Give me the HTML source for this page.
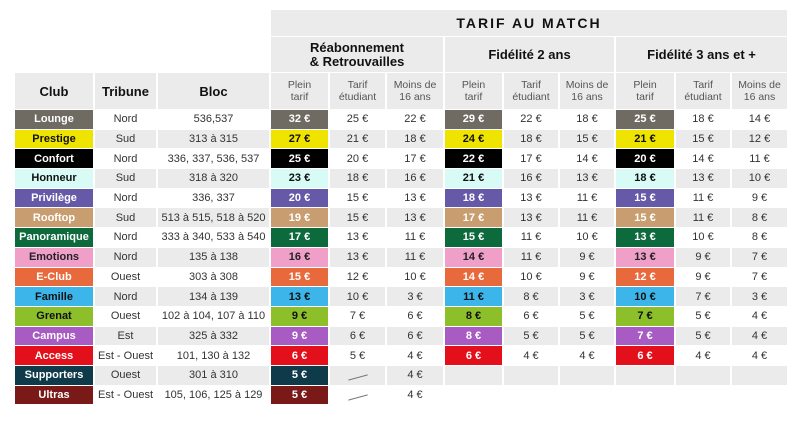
<!DOCTYPE html>
<html><head><meta charset="utf-8"><style>
body{margin:0;width:800px;height:421px;background:#fff;overflow:hidden;font-family:"Liberation Sans","DejaVu Sans",sans-serif;}
table{position:absolute;left:13px;top:9px;border-collapse:separate;border-spacing:2px 1px;table-layout:fixed;}
td{padding:0;text-align:center;font-size:11px;color:#333;background:#fff;overflow:hidden;white-space:nowrap}
tr.d td{height:18.7px}
tr.d:nth-child(odd) td{background:#ebebeb}
tr.d:nth-child(even) td{background:#fff}
.g{background:#ebebeb!important}
.e{background:#fff!important}
.t{font-size:14px;font-weight:bold;letter-spacing:2px;color:#111;height:26px}
.s{font-size:13px;font-weight:bold;color:#111;height:35px;line-height:14px}
.h td.hh{font-size:13px;font-weight:bold;color:#111;height:36px}
.h td.hs{font-size:10.5px;color:#555;line-height:12px;white-space:normal}
td.c{font-weight:bold;font-size:11px}
.slash{display:inline-block;width:20px;border-top:1px solid #777;transform:rotate(-15deg)}
</style></head><body>
<table>
<colgroup><col style="width:78px"><col style="width:61px"><col style="width:111px"><col style="width:57px"><col style="width:55px"><col style="width:56px"><col style="width:57px"><col style="width:54px"><col style="width:54px"><col style="width:58px"><col style="width:54px"><col style="width:55px"></colgroup>
<tr><td class="e" colspan="3"></td><td class="t g" colspan="9">TARIF AU MATCH</td></tr>
<tr><td class="e" colspan="3"></td><td class="s g" colspan="3">Réabonnement<br>&amp; Retrouvailles</td><td class="s g" colspan="3">Fidélité 2 ans</td><td class="s g" colspan="3">Fidélité 3 ans et +</td></tr>
<tr class="h"><td class="hh g">Club</td><td class="hh g">Tribune</td><td class="hh g">Bloc</td>
<td class="hs g">Plein<br>tarif</td><td class="hs g">Tarif<br>étudiant</td><td class="hs g">Moins de<br>16 ans</td>
<td class="hs g">Plein<br>tarif</td><td class="hs g">Tarif<br>étudiant</td><td class="hs g">Moins de<br>16 ans</td>
<td class="hs g">Plein<br>tarif</td><td class="hs g">Tarif<br>étudiant</td><td class="hs g">Moins de<br>16 ans</td></tr>
<tr class="d"><td class="c" style="background:#6f6b62!important;color:#fff">Lounge</td><td>Nord</td><td>536,537</td><td class="c" style="background:#6f6b62!important;color:#fff">32 €</td><td>25 €</td><td>22 €</td><td class="c" style="background:#6f6b62!important;color:#fff">29 €</td><td>22 €</td><td>18 €</td><td class="c" style="background:#6f6b62!important;color:#fff">25 €</td><td>18 €</td><td>14 €</td></tr>
<tr class="d"><td class="c" style="background:#efe400!important;color:#111">Prestige</td><td>Sud</td><td>313 à 315</td><td class="c" style="background:#efe400!important;color:#111">27 €</td><td>21 €</td><td>18 €</td><td class="c" style="background:#efe400!important;color:#111">24 €</td><td>18 €</td><td>15 €</td><td class="c" style="background:#efe400!important;color:#111">21 €</td><td>15 €</td><td>12 €</td></tr>
<tr class="d"><td class="c" style="background:#000!important;color:#fff">Confort</td><td>Nord</td><td>336, 337, 536, 537</td><td class="c" style="background:#000!important;color:#fff">25 €</td><td>20 €</td><td>17 €</td><td class="c" style="background:#000!important;color:#fff">22 €</td><td>17 €</td><td>14 €</td><td class="c" style="background:#000!important;color:#fff">20 €</td><td>14 €</td><td>11 €</td></tr>
<tr class="d"><td class="c" style="background:#d8fbf6!important;color:#111">Honneur</td><td>Sud</td><td>318 à 320</td><td class="c" style="background:#d8fbf6!important;color:#111">23 €</td><td>18 €</td><td>16 €</td><td class="c" style="background:#d8fbf6!important;color:#111">21 €</td><td>16 €</td><td>13 €</td><td class="c" style="background:#d8fbf6!important;color:#111">18 €</td><td>13 €</td><td>10 €</td></tr>
<tr class="d"><td class="c" style="background:#665aa8!important;color:#fff">Privilège</td><td>Nord</td><td>336, 337</td><td class="c" style="background:#665aa8!important;color:#fff">20 €</td><td>15 €</td><td>13 €</td><td class="c" style="background:#665aa8!important;color:#fff">18 €</td><td>13 €</td><td>11 €</td><td class="c" style="background:#665aa8!important;color:#fff">15 €</td><td>11 €</td><td>9 €</td></tr>
<tr class="d"><td class="c" style="background:#c89e70!important;color:#fff">Rooftop</td><td>Sud</td><td>513 à 515, 518 à 520</td><td class="c" style="background:#c89e70!important;color:#fff">19 €</td><td>15 €</td><td>13 €</td><td class="c" style="background:#c89e70!important;color:#fff">17 €</td><td>13 €</td><td>11 €</td><td class="c" style="background:#c89e70!important;color:#fff">15 €</td><td>11 €</td><td>8 €</td></tr>
<tr class="d"><td class="c" style="background:#0c6a3c!important;color:#fff">Panoramique</td><td>Nord</td><td>333 à 340, 533 à 540</td><td class="c" style="background:#0c6a3c!important;color:#fff">17 €</td><td>13 €</td><td>11 €</td><td class="c" style="background:#0c6a3c!important;color:#fff">15 €</td><td>11 €</td><td>10 €</td><td class="c" style="background:#0c6a3c!important;color:#fff">13 €</td><td>10 €</td><td>8 €</td></tr>
<tr class="d"><td class="c" style="background:#f0a0c8!important;color:#222">Emotions</td><td>Nord</td><td>135 à 138</td><td class="c" style="background:#f0a0c8!important;color:#222">16 €</td><td>13 €</td><td>11 €</td><td class="c" style="background:#f0a0c8!important;color:#222">14 €</td><td>11 €</td><td>9 €</td><td class="c" style="background:#f0a0c8!important;color:#222">13 €</td><td>9 €</td><td>7 €</td></tr>
<tr class="d"><td class="c" style="background:#e8693c!important;color:#fff">E-Club</td><td>Ouest</td><td>303 à 308</td><td class="c" style="background:#e8693c!important;color:#fff">15 €</td><td>12 €</td><td>10 €</td><td class="c" style="background:#e8693c!important;color:#fff">14 €</td><td>10 €</td><td>9 €</td><td class="c" style="background:#e8693c!important;color:#fff">12 €</td><td>9 €</td><td>7 €</td></tr>
<tr class="d"><td class="c" style="background:#3cb6ea!important;color:#111">Famille</td><td>Nord</td><td>134 à 139</td><td class="c" style="background:#3cb6ea!important;color:#111">13 €</td><td>10 €</td><td>3 €</td><td class="c" style="background:#3cb6ea!important;color:#111">11 €</td><td>8 €</td><td>3 €</td><td class="c" style="background:#3cb6ea!important;color:#111">10 €</td><td>7 €</td><td>3 €</td></tr>
<tr class="d"><td class="c" style="background:#8cbf2a!important;color:#111">Grenat</td><td>Ouest</td><td>102 à 104, 107 à 110</td><td class="c" style="background:#8cbf2a!important;color:#111">9 €</td><td>7 €</td><td>6 €</td><td class="c" style="background:#8cbf2a!important;color:#111">8 €</td><td>6 €</td><td>5 €</td><td class="c" style="background:#8cbf2a!important;color:#111">7 €</td><td>5 €</td><td>4 €</td></tr>
<tr class="d"><td class="c" style="background:#a85bc2!important;color:#fff">Campus</td><td>Est</td><td>325 à 332</td><td class="c" style="background:#a85bc2!important;color:#fff">9 €</td><td>6 €</td><td>6 €</td><td class="c" style="background:#a85bc2!important;color:#fff">8 €</td><td>5 €</td><td>5 €</td><td class="c" style="background:#a85bc2!important;color:#fff">7 €</td><td>5 €</td><td>4 €</td></tr>
<tr class="d"><td class="c" style="background:#e3101b!important;color:#fff">Access</td><td>Est - Ouest</td><td>101, 130 à 132</td><td class="c" style="background:#e3101b!important;color:#fff">6 €</td><td>5 €</td><td>4 €</td><td class="c" style="background:#e3101b!important;color:#fff">6 €</td><td>4 €</td><td>4 €</td><td class="c" style="background:#e3101b!important;color:#fff">6 €</td><td>4 €</td><td>4 €</td></tr>
<tr class="d"><td class="c" style="background:#0f3a4a!important;color:#fff">Supporters</td><td>Ouest</td><td>301 à 310</td><td class="c" style="background:#0f3a4a!important;color:#fff">5 €</td><td><span class="slash"></span></td><td>4 €</td><td></td><td></td><td></td><td></td><td></td><td></td></tr>
<tr class="d"><td class="c" style="background:#7a1a18!important;color:#fff">Ultras</td><td>Est - Ouest</td><td>105, 106, 125 à 129</td><td class="c" style="background:#7a1a18!important;color:#fff">5 €</td><td><span class="slash"></span></td><td>4 €</td><td></td><td></td><td></td><td></td><td></td><td></td></tr>
</table>
</body></html>
